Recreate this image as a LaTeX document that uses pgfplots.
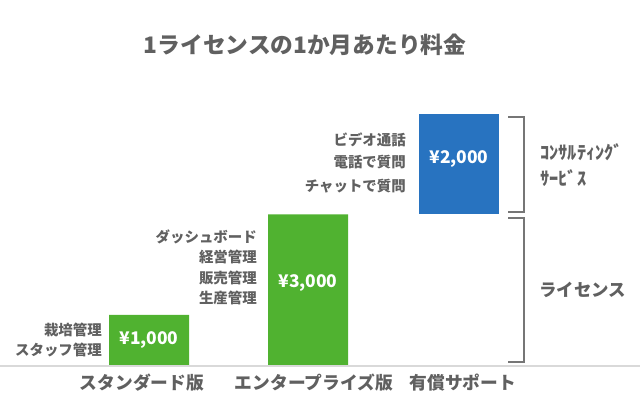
\documentclass[border=0pt]{standalone}
\usepackage{pgfplots}
\pgfplotsset{compat=1.18}
\usepackage{fontspec}
\setmainfont{Noto Sans CJK JP}
\definecolor{grn}{RGB}{80,178,48}
\definecolor{blu}{RGB}{40,115,192}
\definecolor{txt}{RGB}{96,96,96}
\definecolor{brc}{RGB}{118,118,118}
\definecolor{base}{RGB}{217,217,217}
\begin{document}
\begin{tikzpicture}
\begin{axis}[
  scale only axis, width=640bp, height=400bp,
  xmin=0, xmax=640, ymin=-697.2, ymax=7270.9,
  hide axis,
  ybar stacked, bar width=80,
]
% green licence bars
\addplot[fill=grn, draw=none] coordinates {(149,1000) (308,3000) (459,0)};
% invisible base for support bar
\addplot[fill=none, draw=none] coordinates {(149,0) (308,0) (459,3000)};
% blue consulting bar
\addplot[fill=blu, draw=none] coordinates {(149,0) (308,0) (459,2000)};
% baseline
\draw[base, line width=2.2bp] (axis cs:0,-15) -- (axis cs:640,-15);
% braces
\draw[brc, line width=2bp] (axis cs:508,4950) -- (axis cs:524,4950) -- (axis cs:524,3038) -- (axis cs:508,3038);
\draw[brc, line width=2bp] (axis cs:508,2922) -- (axis cs:524,2922) -- (axis cs:524,60) -- (axis cs:508,60);
\end{axis}
\begin{scope}[x=1bp, y=-1bp, shift={(0,400bp)}]
% title
\node[txt, font=\bfseries\fontsize{22.8}{26}\selectfont] at (305,45) {1ライセンスの1か月あたり料金};
% category labels
\begin{scope}[every node/.style={txt, font=\bfseries\fontsize{17.8}{20}\selectfont}]
\node at (142,383) {スタンダード版};
\node at (314,383) {エンタープライズ版};
\node at (463,383) {有償サポート};
\end{scope}
% values in bars
\begin{scope}[every node/.style={white, font=\bfseries\fontsize{17.5}{20}\selectfont}]
\node at (149,340) {¥1,000};
\node at (308,283) {¥3,000};
\node at (459,159) {¥2,000};
\end{scope}
% feature labels
\begin{scope}[every node/.style={txt, anchor=east, inner sep=0pt, font=\bfseries\fontsize{14.5}{18}\selectfont}]
\node at (102,330) {栽培管理};
\node at (102,350) {スタッフ管理};
\node at (257,236.7) {ダッシュボード};
\node at (257,256.7) {経営管理};
\node at (257,278) {販売管理};
\node at (257,297.7) {生産管理};
\node at (406,140) {ビデオ通話};
\node at (406,162) {電話で質問};
\node at (406,186.5) {チャットで質問};
\end{scope}
% right labels
\node[txt, anchor=west, inner sep=0pt, font=\bfseries\fontsize{17.5}{20}\selectfont] at (539,290) {ライセンス};
\node[txt, anchor=west, inner sep=0pt, font=\bfseries\fontsize{18.5}{22}\selectfont] at (540,152) {ｺﾝｻﾙﾃｨﾝｸﾞ};
\node[txt, anchor=west, inner sep=0pt, font=\bfseries\fontsize{18.5}{22}\selectfont] at (540,178) {ｻｰﾋﾞｽ};
\end{scope}
\pgfresetboundingbox
\path (0,0) rectangle (640bp,400bp);
\end{tikzpicture}
\end{document}
